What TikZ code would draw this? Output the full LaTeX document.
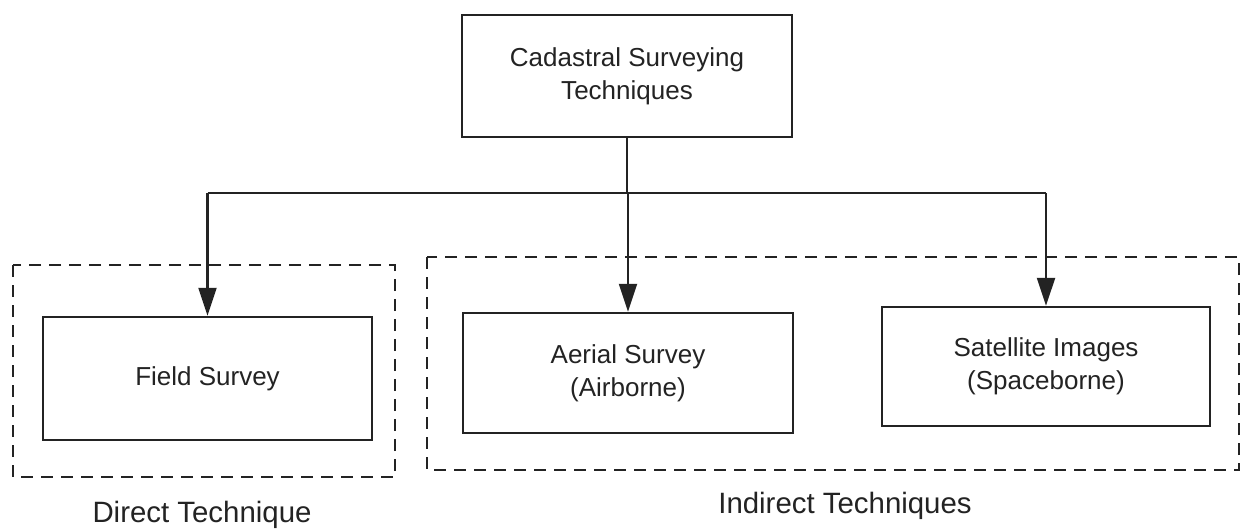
\documentclass[tikz,border=0pt]{standalone}
\usepackage{fontspec}
\setmainfont{Liberation Sans}
\usetikzlibrary{arrows.meta}
\definecolor{ink}{RGB}{35,35,35}
\begin{document}
\begin{tikzpicture}[x=0.5pt,y=-0.5pt,
  box/.style={draw=ink, line width=1.2pt, inner sep=0pt, align=center,
    text=ink, font=\fontsize{13}{16.5}\selectfont},
  groupbox/.style={draw=ink, line width=1pt, dash pattern=on 6pt off 4pt},
  grouplabel/.style={text=ink, font=\fontsize{14.7}{17}\selectfont, anchor=base, inner sep=0pt},
  conn/.style={draw=ink, line width=1.1pt},
  arr/.style={conn, -{Triangle[length=14pt,width=9pt]}}]
\useasboundingbox[fill=white] (0,0) rectangle (1242,530);

% boxes
\node[box, minimum width=165pt, minimum height=61pt] (top) at (627,76)
  {Cadastral Surveying\\Techniques};
\node[box, minimum width=164.5pt, minimum height=61.5pt] (field) at (207.5,378.5)
  {Field Survey};
\node[box, minimum width=165pt, minimum height=60pt] (aerial) at (628,373)
  {Aerial Survey\\(Airborne)};
\node[box, minimum width=164pt, minimum height=59.5pt] (sat) at (1046,366.5)
  {Satellite Images\\(Spaceborne)};

% group frames
\draw[groupbox] (13,265) rectangle (395,477);
\draw[groupbox] (427,257) rectangle (1239,470);
\node[grouplabel] (direct) at (202,522) {Direct Technique};
\node[grouplabel] (indirect) at (845,513) {Indirect Techniques};

% connectors
\coordinate (bus) at (0,193);
\draw[conn] (top.south) -- (top.south |- bus);
\draw[conn] (bus -| field.north) -- (bus -| sat.north);
\draw[arr] (bus -| field.north) -- (field.north);
\draw[arr] (bus -| aerial.north) -- (aerial.north);
\draw[arr] (bus -| sat.north) -- (sat.north);
\end{tikzpicture}
\end{document}
